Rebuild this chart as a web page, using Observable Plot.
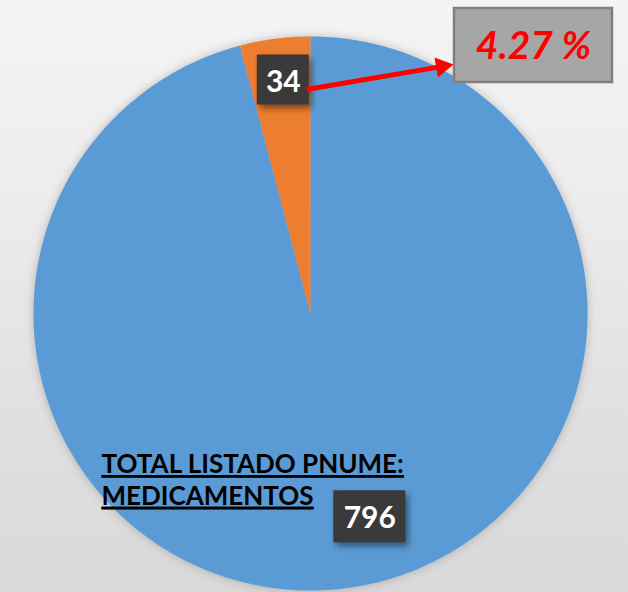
<!DOCTYPE html>
<html>
<head>
<meta charset="utf-8">
<script src="https://cdn.jsdelivr.net/npm/d3@7"></script>
<script src="https://cdn.jsdelivr.net/npm/@observablehq/plot@0.6"></script>
<style>
  html, body { margin: 0; padding: 0; overflow: hidden; }
  body { width: 628px; height: 592px; }
</style>
</head>
<body>
<div id="chart"></div>
<script>
// ---- data ----
const categories = ["Total listado PNUME: medicamentos", "Subconjunto"];
const values = [796, 34];
const titleLines = ["TOTAL LISTADO PNUME:", "MEDICAMENTOS"];

// derived
const table = categories.map((c, i) => ({category: c, value: values[i]}));
const percent = (values[1] / values[0] * 100).toFixed(2) + " %";

const arcs = d3.pie().sort(null).value(d => d.value)(table);
const piePoints = [];
for (const a of arcs) {
  piePoints.push({category: a.data.category, x: 0, y: 0});
  const n = Math.max(8, Math.ceil((a.endAngle - a.startAngle) / (Math.PI / 360)));
  for (let k = 0; k <= n; k++) {
    const t = a.startAngle + (a.endAngle - a.startAngle) * k / n;
    piePoints.push({category: a.data.category, x: Math.sin(t), y: Math.cos(t)});
  }
  piePoints.push({category: a.data.category, x: 0, y: 0});
}
const mid = a => (a.startAngle + a.endAngle) / 2;
const labelAt = (a, r) => ({label: String(a.data.value), category: a.data.category, x: r * Math.sin(mid(a)), y: r * Math.cos(mid(a))});
const bigLabel = [labelAt(arcs[0], 0.74)];
const smallLabel = [labelAt(arcs[1], 0.85)];

// annotation placement (pixel -> data helper)
const X0 = 310, Y0 = 313, R = 277;
const px = v => (v - X0) / R;
const py = v => (Y0 - v) / R;
const boxAnchor = [{x: px(533), y: py(45), label: percent}];
const start = [306, 89], tip = [453, 64];
const len = Math.hypot(tip[0] - start[0], tip[1] - start[1]);
const ux = (tip[0] - start[0]) / len, uy = (tip[1] - start[1]) / len;
const headR = 7.5;
const headH = Math.sqrt(headR * headR * Math.PI * 4 / Math.sqrt(3)) * Math.sqrt(3) / 2;
const shaft = [{x1: px(start[0]), y1: py(start[1]), x2: px(tip[0] - ux * headH * 0.8), y2: py(tip[1] - uy * headH * 0.8)}];
const head = [{x: px(tip[0] - ux * headH * 2 / 3), y: py(tip[1] - uy * headH * 2 / 3)}];
const headRotate = 90 + Math.atan2(uy, ux) * 180 / Math.PI;

const font = "Lato, 'Open Sans', sans-serif";

const chart = Plot.plot({
  width: 628,
  height: 592,
  margin: 0,
  x: {domain: [-1, 1], range: [X0 - R, X0 + R], axis: null},
  y: {domain: [-1, 1], range: [Y0 + R, Y0 - R], axis: null},
  color: {domain: categories, range: ["#5b9bd5", "#ed7d31"]},
  style: {background: "linear-gradient(180deg, #f4f4f4 0%, #ececec 35%, #e0e0e0 70%, #d9d9d9 100%)", fontFamily: font},
  marks: [
    Plot.line(piePoints, {x: "x", y: "y", z: "category", fill: "category", stroke: "none", ariaDescription: "pie"}),
    // value label boxes
    Plot.rect(smallLabel, {x1: "x", x2: "x", y1: "y", y2: "y", dx: 3, insetLeft: -26, insetRight: -26, insetTop: -25, insetBottom: -25, fill: "#3a3a3a", ariaDescription: "labelbox"}),
    Plot.text(smallLabel, {x: "x", y: "y", text: "label", dx: 3, dy: 2, fill: "white", fontWeight: "bold", fontSize: 30}),
    Plot.rect(bigLabel, {x1: "x", x2: "x", y1: "y", y2: "y", dx: 33, insetLeft: -36, insetRight: -36, insetTop: -26, insetBottom: -26, fill: "#3a3a3a", ariaDescription: "labelbox"}),
    Plot.text(bigLabel, {x: "x", y: "y", text: "label", dx: 33, dy: 2, fill: "white", fontWeight: "bold", fontSize: 30}),
    // title
    Plot.text([titleLines.join("\n")], {frameAnchor: "top-left", dx: 101, dy: 450, textAnchor: "start", lineAnchor: "top", lineHeight: 1.22, fontSize: 26, fontWeight: "bold", fill: "#000", ariaDescription: "title"}),
    // percentage box + arrow
    Plot.rect(boxAnchor, {x1: "x", x2: "x", y1: "y", y2: "y", insetLeft: -79, insetRight: -79, insetTop: -37, insetBottom: -37, fill: "#a6a6a6", stroke: "#7f7f7f", strokeWidth: 2.5}),
    Plot.text(boxAnchor, {x: "x", y: "y", text: "label", fill: "#ff0000", fontWeight: "bold", fontStyle: "italic", fontSize: 39, dy: 1}),
    Plot.link(shaft, {x1: "x1", y1: "y1", x2: "x2", y2: "y2", stroke: "#ff0000", strokeWidth: 5}),
    Plot.dot(head, {x: "x", y: "y", symbol: "triangle", r: headR, fill: "#ff0000", stroke: "none", rotate: headRotate})
  ]
});

chart.querySelectorAll('[aria-description="title"] text, [aria-description="title"] tspan').forEach(t => t.style.textDecoration = "underline");
chart.querySelectorAll('[aria-description="pie"]').forEach(g => g.style.filter = "drop-shadow(0 0 5px rgba(0,0,0,0.22))");
chart.querySelectorAll('[aria-description="labelbox"]').forEach(g => g.style.filter = "drop-shadow(3px 4px 3px rgba(0,0,0,0.45))");

document.getElementById("chart").appendChild(chart);
</script>
</body>
</html>
